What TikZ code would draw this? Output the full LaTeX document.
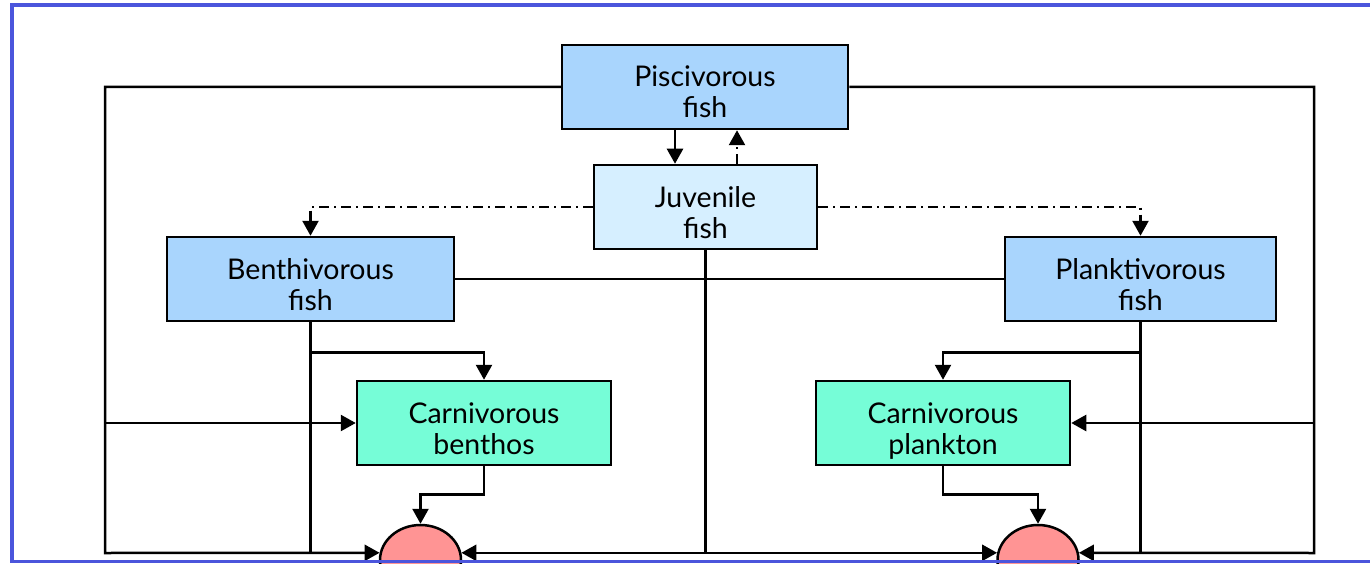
\documentclass[tikz,border=0pt]{standalone}
\usepackage{fontspec}
\setmainfont{Lato}
\usetikzlibrary{arrows.meta,shapes.geometric,calc}
\definecolor{predblue}{RGB}{169,213,253}
\definecolor{juvblue}{RGB}{214,239,255}
\definecolor{carngreen}{RGB}{118,253,215}
\definecolor{preyred}{RGB}{255,148,148}
\definecolor{frameblue}{RGB}{75,85,220}

\begin{document}
\begin{tikzpicture}[x=1pt,y=-1pt,
every node/.style={font=\fontsize{28.5}{31}\selectfont},
box/.style={draw,line width=2.5pt,align=center,minimum height=84pt,inner sep=0pt,text height=62pt,text depth=0pt},
fishbox/.style={box,fill=predblue},
juvbox/.style={box,fill=juvblue},
carnbox/.style={box,fill=carngreen,minimum width=254pt},
prey/.style={ellipse,draw,line width=2.5pt,fill=preyred,minimum width=81pt,minimum height=70pt,inner sep=0pt},
link/.style={line width=2.5pt},
flow/.style={link,-{Triangle[length=15pt,width=16pt]}},
dashdot/.style={dash pattern=on 10pt off 5pt on 2pt off 5pt}]
\useasboundingbox (0,0) rectangle (1370,564);
\clip (0,0) rectangle (1370,564);

\node[fishbox,minimum width=286pt] (pisc) at (705,87) {Piscivorous\\fish};
\node[juvbox,minimum width=223pt] (juv) at (705.5,207) {Juvenile\\fish};
\node[fishbox,minimum width=287pt] (benth) at (310.5,279) {Benthivorous\\fish};
\node[fishbox,minimum width=271pt] (plank) at (1140.5,279) {Planktivorous\\fish};
\node[carnbox] (cbenth) at (484,423) {Carnivorous\\benthos};
\node[carnbox] (cplank) at (943,423) {Carnivorous\\plankton};
\node[prey] (lprey) at (420.5,560) {};
\node[prey] (rprey) at (1038,560) {};

\coordinate (lbot) at (105,553);
\coordinate (rbot) at (1314,553);

\draw[flow] (pisc.west) -| (lbot) -- (lprey.170);
\draw[flow] (cbenth.west -| lbot) -- (cbenth.west);
\draw[flow] (pisc.east) -| (rbot) -- (rprey.10);
\draw[flow] (cplank.east -| rbot) -- (cplank.east);

\draw[flow] ([xshift=-30pt]pisc.south) -- ([xshift=-30pt]pisc.south |- juv.north);
\draw[flow,dashdot] ([xshift=32pt]pisc.south |- juv.north) -- ([xshift=32pt]pisc.south);
\draw[flow,dashdot] (juv.west) -| (benth.north);
\draw[flow,dashdot] (juv.east) -| (plank.north);

\draw[link] (benth.east) -- (plank.west);
\draw[link] (juv.south) -- (juv.south |- lbot);
\draw[link,{Triangle[length=15pt,width=16pt]}-{Triangle[length=15pt,width=16pt]}] (lprey.10) -- (rprey.170);

\draw[link] (benth.south) -- (benth.south |- lbot);
\draw[flow] (benth.south) ++(0,30) -| (cbenth.north);
\draw[flow] (cbenth.south) -- ++(0,28) -| (lprey.north);

\draw[link] (plank.south) -- (plank.south |- rbot);
\draw[flow] (plank.south) ++(0,30) -| (cplank.north);
\draw[flow] (cplank.south) -- ++(0,28) -| (rprey.north);

\draw[frameblue,line width=3.5pt] (12,5) rectangle (1400,561.5);
\end{tikzpicture}
\end{document}
